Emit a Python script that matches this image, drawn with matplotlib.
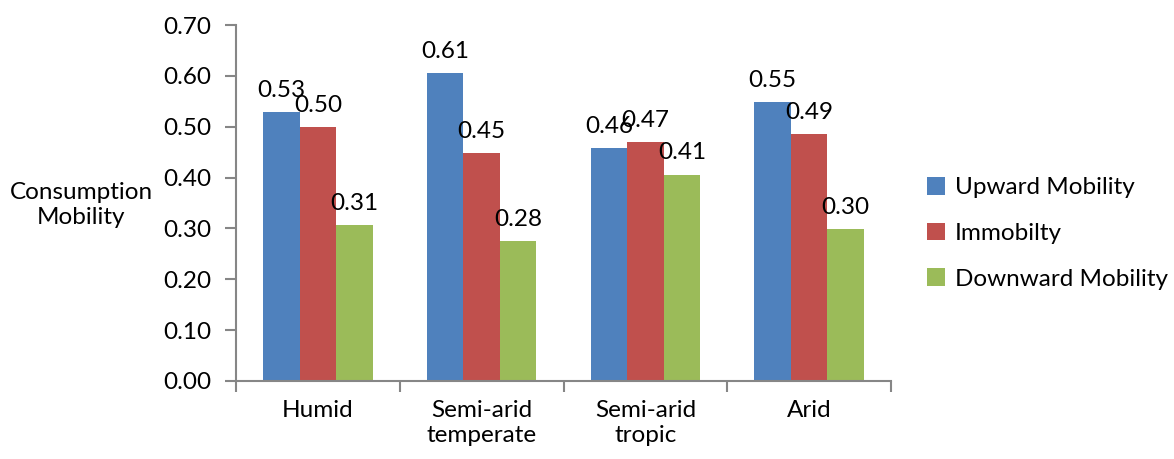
import numpy as np
import matplotlib
matplotlib.use("Agg")
import matplotlib.pyplot as plt
from matplotlib.ticker import FixedLocator, NullFormatter

categories = ["Humid", "Semi-arid\ntemperate", "Semi-arid\ntropic", "Arid"]
series_names = ["Upward Mobility", "Immobilty", "Downward Mobility"]
upward = [0.528, 0.606, 0.458, 0.549]
immobility = [0.499, 0.448, 0.469, 0.486]
downward = [0.306, 0.276, 0.406, 0.299]
colors = ["#4F81BD", "#C0504D", "#9BBB59"]

plt.rcParams["font.family"] = ["Lato", "DejaVu Sans"]

fig = plt.figure(figsize=(11.74, 4.59), dpi=100)
ax = fig.add_axes([0.201, 0.170, 0.558, 0.7755])

x = np.arange(len(categories))
width = 0.223
grey = "#868686"
fs = 17.5

for i, (vals, name, col) in enumerate(zip([upward, immobility, downward], series_names, colors)):
    bars = ax.bar(x + (i - 1) * width, vals, width, color=col, label=name)
    for b, v in zip(bars, vals):
        ax.annotate(f"{v:.2f}", (b.get_x() + b.get_width() / 2, v),
                    xytext=(0, 8), textcoords="offset points",
                    ha="center", va="bottom", fontsize=fs)

ax.set_xlim(-0.5, len(categories) - 0.5)
ax.set_ylim(0, 0.70)
ax.set_yticks(np.arange(0, 0.71, 0.10))
ax.set_yticklabels([f"{t:.2f}" for t in np.arange(0, 0.71, 0.10)], fontsize=fs)
ax.set_xticks(x)
ax.set_xticklabels(categories, fontsize=fs)
ax.tick_params(axis="x", which="major", length=0, pad=14)
ax.xaxis.set_minor_locator(FixedLocator(np.arange(-0.5, len(categories), 1.0)))
ax.xaxis.set_minor_formatter(NullFormatter())
ax.tick_params(axis="x", which="minor", length=8, color=grey, width=1.5)
ax.tick_params(axis="y", length=8, color=grey, width=1.5, pad=10)

for s in ["top", "right"]:
    ax.spines[s].set_visible(False)
for s in ["left", "bottom"]:
    ax.spines[s].set_color(grey)
    ax.spines[s].set_linewidth(1.5)

fig.text(0.069, 0.553, "Consumption\nMobility", ha="center", va="center", fontsize=fs)

ax.legend(loc="center left", bbox_to_anchor=(1.055, 0.415), frameon=False, fontsize=fs,
          handlelength=0.75, handleheight=0.75, handletextpad=0.4, labelspacing=1.0,
          borderaxespad=0, borderpad=0)

fig.savefig("out.png", dpi=100)
